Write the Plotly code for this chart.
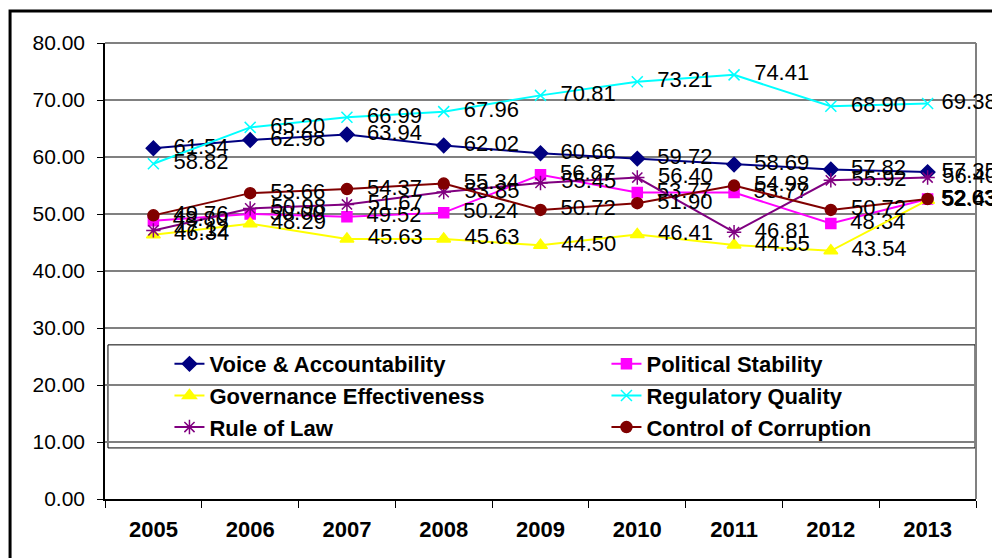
import plotly.graph_objects as go

years = ["2005", "2006", "2007", "2008", "2009", "2010", "2011", "2012", "2013"]

voice_accountability = [61.54, 62.98, 63.94, 62.02, 60.66, 59.72, 58.69, 57.82, 57.35]
political_stability = [48.80, 50.00, 49.52, 50.24, 56.87, 53.77, 53.77, 48.34, 52.63]
governance_effectiveness = [46.34, 48.29, 45.63, 45.63, 44.50, 46.41, 44.55, 43.54, 52.43]
regulatory_quality = [58.82, 65.20, 66.99, 67.96, 70.81, 73.21, 74.41, 68.90, 69.38]
rule_of_law = [47.12, 50.98, 51.67, 53.85, 55.45, 56.40, 46.81, 55.92, 56.40]
control_of_corruption = [49.76, 53.66, 54.37, 55.34, 50.72, 51.90, 54.98, 50.72, 52.63]

y_ticks = [0, 10, 20, 30, 40, 50, 60, 70, 80]

FONT = "Liberation Sans, Arial, sans-serif"

series = [
    ("Voice & Accountability", voice_accountability, "#000080", "diamond", 11),
    ("Political Stability", political_stability, "#FF00FF", "square", 10),
    ("Governance Effectiveness", governance_effectiveness, "#FFFF00", "triangle-up", 12),
    ("Regulatory Quality", regulatory_quality, "#00FFFF", "x-thin-open", 11),
    ("Rule of Law", rule_of_law, "#800080", "asterisk-open", 12),
    ("Control of Corruption", control_of_corruption, "#800000", "circle", 11),
]

fig = go.Figure()
for name, vals, color, symbol, size in series:
    n = len(vals)
    labels = [("  " if i < n - 1 else " ") + f"{v:.2f}" for i, v in enumerate(vals)]
    fig.add_trace(go.Scatter(
        x=years, y=vals, name=name, mode="lines+markers+text",
        line=dict(color=color, width=2),
        marker=dict(symbol=symbol, size=size, color=color,
                    line=dict(color=color, width=1.5)),
        text=labels,
        textposition="middle right",
        textfont=dict(family=FONT, size=22, color="black"),
        cliponaxis=False,
        hoverinfo="skip",
    ))

# legend frame box (white, covers gridlines)
fig.add_shape(type="rect", xref="paper", yref="paper",
              x0=0.0034, x1=0.9989, y0=0.112, y1=0.338,
              line=dict(color="black", width=1), fillcolor="white",
              layer="between")
# outer chart frame
fig.add_shape(type="rect", xref="paper", yref="paper",
              x0=-0.109, x1=1.2, y0=-0.3, y1=1.07,
              line=dict(color="black", width=3), fillcolor="rgba(0,0,0,0)",
              layer="above")
# gray top/right plot border
fig.add_shape(type="line", xref="paper", yref="paper", x0=0, x1=1, y0=1, y1=1,
              line=dict(color="#808080", width=2), layer="below")
fig.add_shape(type="line", xref="paper", yref="paper", x0=1, x1=1, y0=0, y1=1,
              line=dict(color="#808080", width=2), layer="below")

fig.update_layout(
    width=992, height=558,
    margin=dict(l=105, r=16, t=43, b=59, autoexpand=False),
    paper_bgcolor="white", plot_bgcolor="white",
    font=dict(family=FONT, size=21, color="black"),
    showlegend=True,
    legend=dict(
        orientation="h", x=0.074, y=0.342, xanchor="left", yanchor="top",
        bgcolor="rgba(0,0,0,0)", borderwidth=0,
        entrywidth=392, entrywidthmode="pixels",
        font=dict(family=FONT, size=22, color="black", weight="bold"),
        itemsizing="trace", tracegroupgap=0,
    ),
    xaxis=dict(
        type="category", showgrid=False, showline=True, linecolor="black",
        linewidth=1.5, ticks="outside", tickson="boundaries", ticklen=7,
        tickcolor="black", mirror=False, automargin=False,
        ticklabelstandoff=10,
        tickfont=dict(family=FONT, size=22, color="black", weight="bold"),
        range=[-0.5, 8.5],
    ),
    yaxis=dict(
        range=[0, 80], tickvals=y_ticks, tickformat=".2f",
        showgrid=True, gridcolor="#808080", gridwidth=1.5,
        showline=True, linecolor="black", linewidth=1.5,
        ticks="outside", ticklen=6, tickcolor="black",
        ticklabelstandoff=8, automargin=False,
        tickfont=dict(family=FONT, size=21, color="black"),
        zeroline=False,
    ),
)

fig.write_html(
    "out.html",
    config={"displayModeBar": False},
    post_script="document.body.style.margin='0';document.body.style.overflow='hidden';",
)
